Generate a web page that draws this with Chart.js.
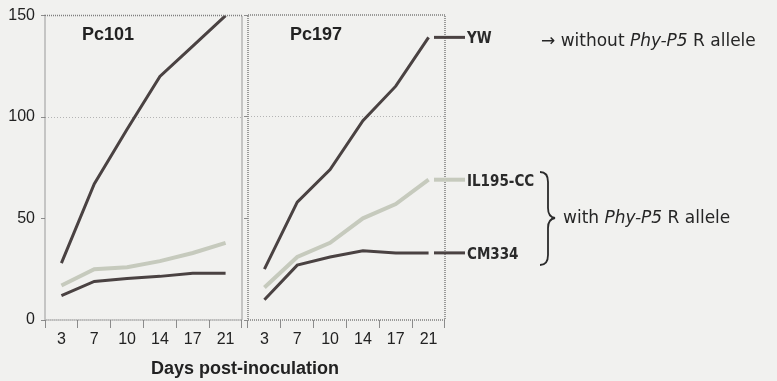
<!DOCTYPE html>
<html>
<head>
<meta charset="utf-8">
<script src="https://cdn.jsdelivr.net/npm/chart.js@4.4.1/dist/chart.umd.min.js"></script>
<style>
  body { margin: 0; background: #f1f1ef; }
  #wrap { position: relative; width: 777px; height: 381px; overflow: hidden; font-family: "Liberation Sans", Arial, sans-serif; color: #222; }
  canvas { position: absolute; top: 0; }
  .txt { position: absolute; white-space: nowrap; line-height: 1; }
  .panel { font-weight: bold; font-size: 18px; top: 25px; }
  .note { font-family: "DejaVu Sans", Verdana, sans-serif; font-size: 17px; color: #262626; }
</style>
</head>
<body>
<div id="wrap">
  <canvas id="left" width="245" height="381" style="left:0;width:245px;height:381px"></canvas>
  <canvas id="right" width="533" height="381" style="left:244px;width:533px;height:381px"></canvas>
  <div class="txt panel" style="left:82px">Pc101</div>
  <div class="txt panel" style="left:290px">Pc197</div>
  <div class="txt note" style="left:541px;top:32px">&rarr; without <i>Phy-P5</i> R allele</div>
  <div class="txt note" style="left:563px;top:209px">with <i>Phy-P5</i> R allele</div>
  <svg style="position:absolute;left:0;top:0" width="777" height="381">
    <path d="M540 172 Q548 172 548 182 L548 208 Q548 217 555 218 Q548 219 548 228 L548 255 Q548 265 540 265"
          fill="none" stroke="#2b2b2b" stroke-width="1.8"/>
  </svg>
  <div class="txt" style="left:0;width:490px;top:359px;text-align:center;font-weight:bold;font-size:18px">Days post-inoculation</div>
</div>
<script>
const days = ["3", "7", "10", "14", "17", "21"];
const yTicks = [0, 50, 100, 150];

// Pc101 panel
const pc101YW = [28, 67, 94, 120, 135, 150];
const pc101IL = [17, 25, 26, 29, 33, 38];
const pc101CM = [12, 19, 20.5, 21.5, 23, 23];

// Pc197 panel
const pc197YW = [25, 58, 74, 98, 115, 139];
const pc197IL = [16, 31, 38, 50, 57, 69];
const pc197CM = [10, 27, 31, 34, 33, 33];

const lineNames = ["YW", "IL195-CC", "CM334"];
const DARK = "#4a4242";
const LIGHT = "#c6cabd";

// dotted box around each panel
const panelBox = {
  id: "panelBox",
  afterDraw(chart) {
    const a = chart.chartArea, c = chart.ctx;
    c.save();
    c.strokeStyle = "#7e7e7e";
    c.lineWidth = 1.5;
    c.setLineDash([1, 1]);
    c.strokeRect(a.left, a.top, a.right - a.left, a.bottom - a.top);
    c.restore();
  }
};

// line ends + names to the right of the Pc197 panel
const endLabels = {
  id: "endLabels",
  afterDraw(chart) {
    const a = chart.chartArea, c = chart.ctx, y = chart.scales.y;
    c.save();
    chart.data.datasets.forEach(ds => {
      const py = y.getPixelForValue(ds.data[ds.data.length - 1]);
      c.strokeStyle = ds.borderColor;
      c.lineWidth = ds.borderWidth;
      c.beginPath();
      c.moveTo(a.right - 11, py);
      c.lineTo(a.right + 20, py);
      c.stroke();
      c.fillStyle = "#2a2a2a";
      c.font = 'bold 15px "DejaVu Sans Condensed", "DejaVu Sans", sans-serif';
      c.textBaseline = "middle";
      c.fillText(ds.label, a.right + 22, py + 2);
    });
    c.restore();
  }
};

function series(yw, il, cm) {
  return [
    { label: lineNames[0], data: yw, borderColor: DARK, borderWidth: 3 },
    { label: lineNames[1], data: il, borderColor: LIGHT, borderWidth: 4 },
    { label: lineNames[2], data: cm, borderColor: DARK, borderWidth: 3 }
  ];
}

function makeChart(id, datasets, showY, padRight, extra) {
  return new Chart(document.getElementById(id), {
    type: "line",
    data: { labels: days, datasets: datasets },
    options: {
      responsive: false,
      animation: false,
      layout: { padding: { top: 15, right: padRight, left: 0, bottom: 0 } },
      elements: { point: { radius: 0 }, line: { tension: 0, borderCapStyle: "butt" } },
      plugins: { legend: { display: false }, tooltip: { enabled: false } },
      scales: {
        x: {
          offset: true,
          grid: { offset: true, drawOnChartArea: false, tickLength: 8, tickColor: "#8c8c8c" },
          border: { display: false },
          ticks: { color: "#222", font: { size: 16, family: "Liberation Sans" }, padding: 2, maxRotation: 0 },
          afterFit: s => { s.height = 61; }
        },
        y: {
          min: 0, max: 150,
          afterBuildTicks: s => { s.ticks = yTicks.map(v => ({ value: v })); },
          grid: {
            color: c => c.tick && c.tick.value === 100 ? "#b4b4b4" : "rgba(0,0,0,0)",
            tickLength: 4, tickColor: "#8c8c8c"
          },
          border: { display: false, dash: [1, 2] },
          ticks: { display: showY, color: "#222", font: { size: 16, family: "Liberation Sans" }, padding: 6 },
          afterFit: s => { s.width = showY ? 45 : 4; }
        }
      }
    },
    plugins: extra
  });
}

makeChart("left", series(pc101YW, pc101IL, pc101CM), true, 3, [panelBox]);
makeChart("right", series(pc197YW, pc197IL, pc197CM), false, 332, [panelBox, endLabels]);
</script>
</body>
</html>
